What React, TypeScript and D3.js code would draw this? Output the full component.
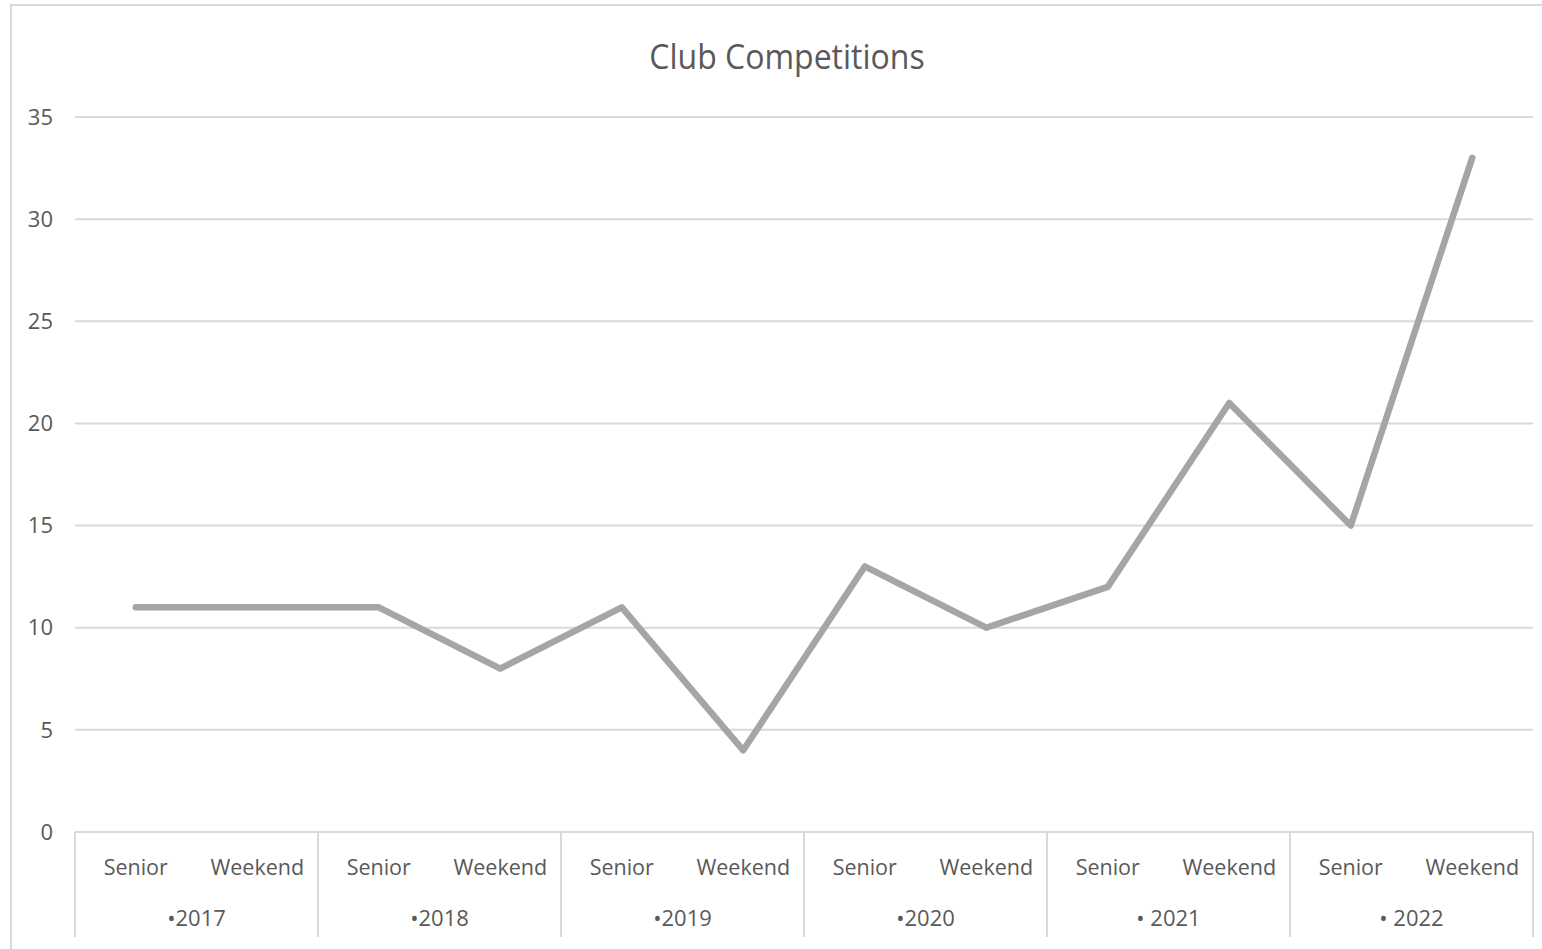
import React, { useEffect, useRef } from 'react';
import * as d3 from 'd3';

const years = ['•2017', '•2018', '•2019', '•2020', '• 2021', '• 2022'];
const types = ['Senior', 'Weekend'];
const values = [11, 11, 11, 8, 11, 4, 13, 10, 12, 21, 15, 33];
const yTicks = [0, 5, 10, 15, 20, 25, 30, 35];

const FONT = '"Open Sans", sans-serif';

const App: React.FC = () => {
  const svgRef = useRef<SVGSVGElement>(null);

  useEffect(() => {
    if (!svgRef.current) return;
    const svg = d3.select(svgRef.current);
    svg.selectAll('*').remove();

    const left = 75;
    const right = 1533;
    const top = 117;
    const bottom = 832;

    // outer chart border
    svg.append('rect')
      .attr('x', 11)
      .attr('y', 5)
      .attr('width', 1560)
      .attr('height', 1000)
      .attr('fill', '#fff')
      .attr('stroke', '#d9d9d9')
      .attr('stroke-width', 2);

    svg.append('text')
      .attr('x', 787)
      .attr('y', 57)
      .attr('dy', '0.35em')
      .attr('text-anchor', 'middle')
      .attr('fill', '#595959')
      .attr('font-family', FONT)
      .attr('font-size', '32px')
      .attr('transform', 'translate(787,57) scale(1,1.06) translate(-787,-57)')
      .text('Club Competitions');

    const cats = d3.range(values.length);
    const xScale = d3.scaleBand<number>()
      .domain(cats)
      .range([left, right]);

    const yScale = d3.scaleLinear()
      .domain([0, 35])
      .range([bottom, top]);

    // gridlines
    svg.append('g')
      .selectAll('line')
      .data(yTicks.filter(t => t > 0))
      .enter()
      .append('line')
      .attr('x1', left)
      .attr('x2', right)
      .attr('y1', d => yScale(d))
      .attr('y2', d => yScale(d))
      .attr('stroke', '#d9d9d9')
      .attr('stroke-width', 2);

    // y labels
    svg.append('g')
      .selectAll('text')
      .data(yTicks)
      .enter()
      .append('text')
      .attr('x', 53)
      .attr('y', d => yScale(d))
      .attr('dy', '0.35em')
      .attr('text-anchor', 'end')
      .attr('fill', '#595959')
      .attr('font-family', FONT)
      .attr('font-size', '22px')
      .text(d => d);

    // category axis
    const axis = svg.append('g');
    axis.append('line')
      .attr('x1', left)
      .attr('x2', right)
      .attr('y1', bottom)
      .attr('y2', bottom)
      .attr('stroke', '#d9d9d9')
      .attr('stroke-width', 2);

    const groupW = xScale.bandwidth() * types.length;
    axis.selectAll('.sep')
      .data(d3.range(years.length + 1))
      .enter()
      .append('line')
      .attr('x1', i => left + i * groupW)
      .attr('x2', i => left + i * groupW)
      .attr('y1', bottom)
      .attr('y2', 937)
      .attr('stroke', '#d9d9d9')
      .attr('stroke-width', 2);

    axis.selectAll('.type')
      .data(cats)
      .enter()
      .append('text')
      .attr('x', i => xScale(i)! + xScale.bandwidth() / 2)
      .attr('y', 867)
      .attr('dy', '0.35em')
      .attr('text-anchor', 'middle')
      .attr('fill', '#595959')
      .attr('font-family', FONT)
      .attr('font-size', '21.5px')
      .text(i => types[i % types.length]);

    axis.selectAll('.year')
      .data(years)
      .enter()
      .append('text')
      .attr('x', (_, i) => left + i * groupW + groupW / 2)
      .attr('y', 918)
      .attr('dy', '0.35em')
      .attr('text-anchor', 'middle')
      .attr('fill', '#595959')
      .attr('font-family', FONT)
      .attr('font-size', '22px')
      .text(d => d);

    // series line
    const line = d3.line<number>()
      .x((_, i) => xScale(i)! + xScale.bandwidth() / 2)
      .y(d => yScale(d));

    svg.append('path')
      .datum(values)
      .attr('d', line)
      .attr('fill', 'none')
      .attr('stroke', '#a5a5a5')
      .attr('stroke-width', 6.5)
      .attr('stroke-linejoin', 'round')
      .attr('stroke-linecap', 'round');
  }, []);

  return (
    <svg
      ref={svgRef}
      width={1542}
      height={949}
      style={{ position: 'absolute', left: 0, top: 0, background: '#fff' }}
    />
  );
};

export default App;
